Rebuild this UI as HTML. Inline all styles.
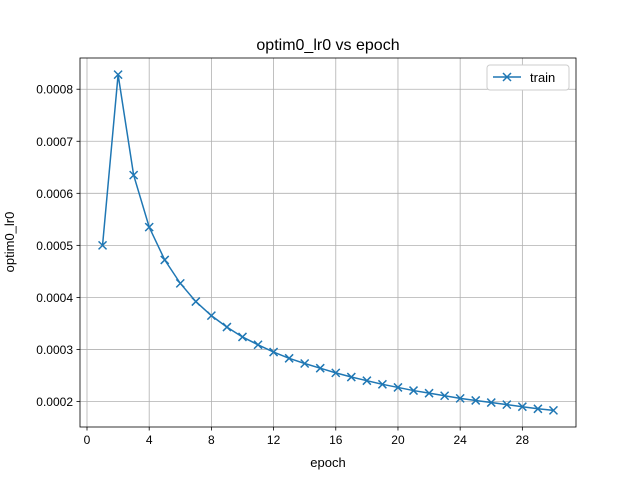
<!DOCTYPE html>
<html><head><meta charset="utf-8"><style>
body{margin:0;background:#fff}
svg{display:block;font-family:"Liberation Sans","DejaVu Sans",sans-serif}
</style></head><body>
<svg id="chart" width="640" height="480">
<rect width="640" height="480" fill="#fff"/>
<g id="grid"></g>
<g id="ticks"></g>
<g id="series"></g>
<rect x="80" y="58" width="496" height="369" fill="none" stroke="#000" stroke-width="0.8"/>
<text x="328" y="50" text-anchor="middle" font-size="16">optim0_lr0 vs epoch</text>
<text x="328" y="467" text-anchor="middle" font-size="13">epoch</text>
<text transform="translate(14,242) rotate(-90)" text-anchor="middle" font-size="13">optim0_lr0</text>
<g>
<rect x="487" y="65" width="82" height="25" rx="3" fill="#fff" stroke="#ccc"/>
<line x1="493" y1="77" x2="521" y2="77" stroke="#1f77b4" stroke-width="1.5"/>
<path d="M503,73 l8,8 M511,73 l-8,8" stroke="#1f77b4" stroke-width="1.5"/>
<text x="530" y="82" font-size="13">train</text>
</g>
</svg>
<script>
const epochs=[1,2,3,4,5,6,7,8,9,10,11,12,13,14,15,16,17,18,19,20,21,22,23,24,25,26,27,28,29,30];
const lrValues=[0.0005,0.000828,0.000635,0.000535,0.000472,0.000427,0.000392,0.000365,0.000343,0.000324,0.000309,0.000295,0.000283,0.000273,0.000264,0.000255,0.000247,0.000240,0.000233,0.000227,0.000221,0.000216,0.000211,0.000206,0.000202,0.000198,0.000194,0.000190,0.000186,0.000183];
const xTicks=[0,4,8,12,16,20,24,28];
const yTicks=[0.0002,0.0003,0.0004,0.0005,0.0006,0.0007,0.0008];
const L=80,R=576,T=58,B=427;
const xmin=-0.45,xmax=31.45,ymin=0.000151,ymax=0.000860;
const sx=v=>L+(v-xmin)/(xmax-xmin)*(R-L);
const sy=v=>B-(v-ymin)/(ymax-ymin)*(B-T);
const NS="http://www.w3.org/2000/svg";
function mk(t,a,p){const e=document.createElementNS(NS,t);for(const k in a)e.setAttribute(k,a[k]);p.appendChild(e);return e;}
const grid=document.getElementById('grid'),ticks=document.getElementById('ticks'),ser=document.getElementById('series');
xTicks.forEach(v=>{const x=sx(v);
const g=mk('line',{x1:x,x2:x,y1:T,y2:B,stroke:'#b0b0b0','stroke-width':0.8},grid);


mk('line',{x1:x,x2:x,y1:B,y2:B+3.5,stroke:'#000','stroke-width':0.8},ticks);
const t=mk('text',{x:x,y:B+17,'text-anchor':'middle','font-size':12},ticks);t.textContent=v;

});
yTicks.forEach(v=>{const y=sy(v);
const g=mk('line',{x1:L,x2:R,y1:y,y2:y,stroke:'#b0b0b0','stroke-width':0.8},grid);


mk('line',{x1:L-3.5,x2:L,y1:y,y2:y,stroke:'#000','stroke-width':0.8},ticks);
const t=mk('text',{x:L-7,y:y+4.5,'text-anchor':'end','font-size':12},ticks);t.textContent=v.toFixed(4);

});
const pts=epochs.map((e,i)=>sx(e)+','+sy(lrValues[i])).join(' ');
const line=mk('polyline',{points:pts,fill:'none',stroke:'#1f77b4','stroke-width':1.5},ser);


epochs.forEach((e,i)=>{const x=sx(e),y=sy(lrValues[i]);
const m=mk('path',{d:`M${x-4},${y-4}L${x+4},${y+4}M${x+4},${y-4}L${x-4},${y+4}`,stroke:'#1f77b4','stroke-width':1.5},ser);

});
</script>
</body></html>
